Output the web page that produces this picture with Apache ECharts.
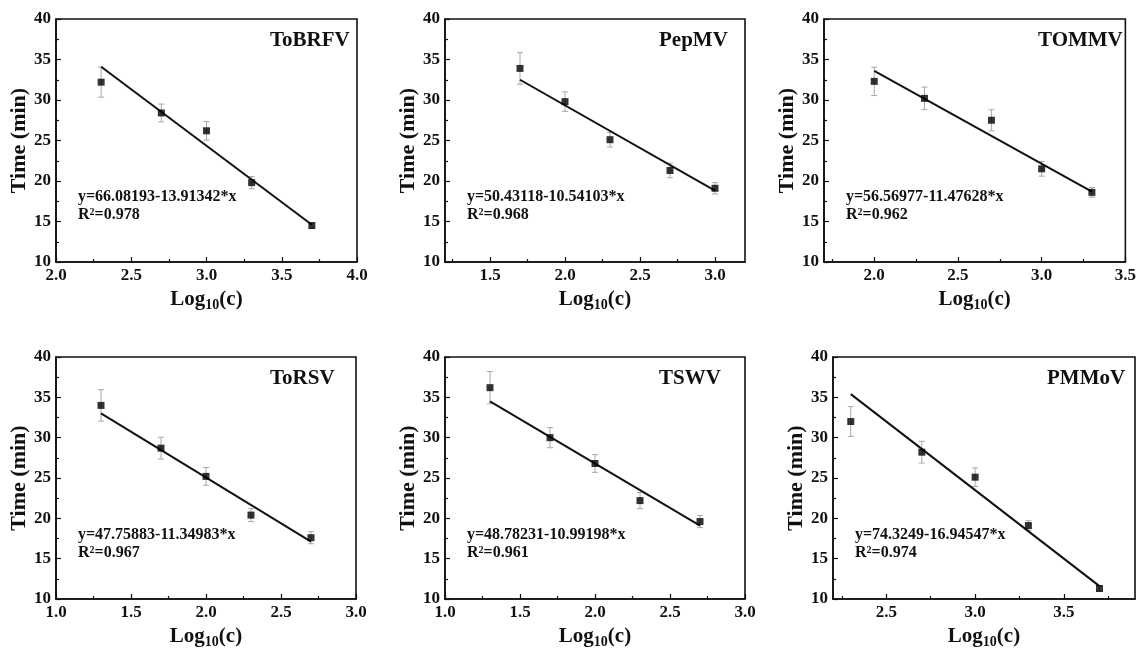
<!DOCTYPE html>
<html>
<head>
<meta charset="utf-8">
<script src="https://cdn.jsdelivr.net/npm/echarts@6/dist/echarts.min.js"></script>
<style>
  html, body { margin: 0; padding: 0; background: #fff; }
  #main { width: 1139px; height: 654px; }
</style>
</head>
<body>
<div id="main"></div>
<script>
// six virus panels
var panelNames = ['ToBRFV', 'PepMV', 'TOMMV', 'ToRSV', 'TSWV', 'PMMoV'];
var xValues = [
  [2.3, 2.7, 3.0, 3.3, 3.7],
  [1.7, 2.0, 2.3, 2.7, 3.0],
  [2.0, 2.3, 2.7, 3.0, 3.3],
  [1.3, 1.7, 2.0, 2.3, 2.7],
  [1.3, 1.7, 2.0, 2.3, 2.7],
  [2.3, 2.7, 3.0, 3.3, 3.7]
];
var timeValues = [
  [32.2, 28.4, 26.2, 19.8, 14.5],
  [33.9, 29.8, 25.1, 21.3, 19.1],
  [32.3, 30.2, 27.5, 21.5, 18.6],
  [34.0, 28.7, 25.2, 20.4, 17.6],
  [36.2, 30.0, 26.8, 22.2, 19.6],
  [32.0, 28.2, 25.1, 19.1, 11.3]
];
var errValues = [
  [1.85, 1.1, 1.15, 0.75, 0.3],
  [1.95, 1.2, 0.9, 0.9, 0.7],
  [1.75, 1.4, 1.3, 0.9, 0.6],
  [1.95, 1.35, 1.1, 0.8, 0.75],
  [2.0, 1.25, 1.1, 1.0, 0.75],
  [1.85, 1.35, 1.15, 0.6, 0.3]
];
// fitted line: y at first and last x
var fitEnds = [
  [34.1, 14.6],
  [32.5, 18.8],
  [33.6, 18.7],
  [33.0, 17.1],
  [34.5, 19.1],
  [35.4, 11.6]
];
var equations = [
  'y=66.08193-13.91342*x',
  'y=50.43118-10.54103*x',
  'y=56.56977-11.47628*x',
  'y=47.75883-11.34983*x',
  'y=48.78231-10.99198*x',
  'y=74.3249-16.94547*x'
];
var r2Values = ['0.978', '0.968', '0.962', '0.967', '0.961', '0.974'];
var xMin = [2.0, 1.2, 1.7, 1.0, 1.0, 2.2];
var xMax = [4.0, 3.2, 3.5, 3.0, 3.0, 3.9];
var xMajor = [
  [2.0, 2.5, 3.0, 3.5, 4.0],
  [1.5, 2.0, 2.5, 3.0],
  [2.0, 2.5, 3.0, 3.5],
  [1.0, 1.5, 2.0, 2.5, 3.0],
  [1.0, 1.5, 2.0, 2.5, 3.0],
  [2.5, 3.0, 3.5]
];
var xMinor = [
  [2.25, 2.75, 3.25, 3.75],
  [1.25, 1.75, 2.25, 2.75],
  [1.75, 2.25, 2.75, 3.25],
  [1.25, 1.75, 2.25, 2.75],
  [1.25, 1.75, 2.25, 2.75],
  [2.25, 2.75, 3.25, 3.75]
];
var yMin = 10, yMax = 40, yStep = 5;

// grid boxes (px)
var boxes = [
  {left: 56, top: 19, width: 301, height: 243},
  {left: 445, top: 19, width: 300, height: 243},
  {left: 824, top: 19, width: 302, height: 243},
  {left: 56, top: 357, width: 300, height: 242},
  {left: 445, top: 357, width: 300, height: 242},
  {left: 833, top: 357, width: 302, height: 242}
];

var FONT = '"Liberation Serif", "Times New Roman", serif';
var grids = [], xAxes = [], minorAxes = [], yAxes = [], series = [], graphics = [];

function errorBar(params, api) {
  var x = api.value(0), y = api.value(1), e = api.value(2);
  var hi = api.coord([x, y + e]);
  var lo = api.coord([x, y - e]);
  var st = {stroke: '#a8a8a8', lineWidth: 1};
  return {
    type: 'group',
    children: [
      {type: 'line', shape: {x1: hi[0], y1: hi[1], x2: lo[0], y2: lo[1]}, style: st},
      {type: 'line', shape: {x1: hi[0] - 3, y1: hi[1], x2: hi[0] + 3, y2: hi[1]}, style: st},
      {type: 'line', shape: {x1: lo[0] - 3, y1: lo[1], x2: lo[0] + 3, y2: lo[1]}, style: st}
    ]
  };
}

for (var i = 0; i < 6; i++) {
  var b = boxes[i];
  grids.push({
    left: b.left, top: b.top, width: b.width, height: b.height,
    show: true, borderColor: '#111', borderWidth: 1.6, backgroundColor: '#fff'
  });
  xAxes.push({
    type: 'value', gridIndex: i, min: xMin[i], max: xMax[i], position: 'bottom',
    name: 'Log{sub|10}(c)', nameLocation: 'middle', nameGap: 25,
    nameTextStyle: {
      color: '#111', fontFamily: FONT, fontWeight: 'bold', fontSize: 21,
      rich: {sub: {fontFamily: FONT, fontWeight: 'bold', fontSize: 14, verticalAlign: 'bottom', padding: [11, 0, 0, 0]}}
    },
    splitLine: {show: false},
    axisLine: {onZero: false, lineStyle: {color: '#111', width: 1.6}},
    axisTick: {inside: true, length: 5, customValues: xMajor[i], lineStyle: {color: '#111', width: 1.2}},
    axisLabel: {
      customValues: xMajor[i], margin: 5, color: '#111', fontFamily: FONT, fontWeight: 'bold', fontSize: 17,
      formatter: function (v) { return v.toFixed(1); }
    }
  });
  minorAxes.push({
    type: 'value', gridIndex: i, min: xMin[i], max: xMax[i], position: 'bottom',
    splitLine: {show: false},
    axisLine: {show: false, onZero: false},
    axisLabel: {show: false, customValues: xMinor[i]},
    axisTick: {inside: true, length: 3, customValues: xMinor[i], lineStyle: {color: '#111', width: 1.2}}
  });
  yAxes.push({
    type: 'value', gridIndex: i, min: yMin, max: yMax, interval: yStep,
    name: 'Time (min)', nameLocation: 'middle', nameGap: 24, nameRotate: 90,
    nameTextStyle: {color: '#111', fontFamily: FONT, fontWeight: 'bold', fontSize: 22},
    splitLine: {show: false},
    axisLine: {onZero: false, lineStyle: {color: '#111', width: 1.6}},
    axisTick: {inside: true, length: 5, lineStyle: {color: '#111', width: 1.2}},
    minorTick: {show: true, splitNumber: 2, length: 3, lineStyle: {color: '#111', width: 1.2}},
    axisLabel: {margin: 5, color: '#111', fontFamily: FONT, fontWeight: 'bold', fontSize: 17}
  });

  var pts = [], bars = [];
  for (var k = 0; k < xValues[i].length; k++) {
    pts.push([xValues[i][k], timeValues[i][k]]);
    bars.push([xValues[i][k], timeValues[i][k], errValues[i][k]]);
  }
  var last = xValues[i].length - 1;
  series.push({
    type: 'custom', name: panelNames[i] + ' sd', xAxisIndex: i, yAxisIndex: i,
    renderItem: errorBar, data: bars, encode: {x: 0, y: 1}, z: 1
  });
  series.push({
    type: 'line', name: panelNames[i] + ' fit', xAxisIndex: i, yAxisIndex: i,
    data: [[xValues[i][0], fitEnds[i][0]], [xValues[i][last], fitEnds[i][1]]],
    showSymbol: false, symbol: 'none', lineStyle: {color: '#111', width: 2}, z: 2
  });
  series.push({
    type: 'scatter', name: panelNames[i], xAxisIndex: i, yAxisIndex: i,
    data: pts, symbol: 'rect', symbolSize: 7, itemStyle: {color: '#000'}, z: 3
  });

  graphics.push({
    type: 'text', left: b.left + 214, top: b.top + 11, z: 10,
    style: {text: panelNames[i], fill: '#111', fontFamily: FONT, fontWeight: 'bold', fontSize: 21}
  });
  graphics.push({
    type: 'text', left: b.left + 22, top: b.top + 170, z: 10,
    style: {text: equations[i], fill: '#111', fontFamily: FONT, fontWeight: 'bold', fontSize: 16}
  });
  graphics.push({
    type: 'text', left: b.left + 22, top: b.top + 188, z: 10,
    style: {
      text: 'R{sup|2}=' + r2Values[i], fill: '#111', fontFamily: FONT, fontWeight: 'bold', fontSize: 16,
      rich: {sup: {fill: '#111', fontFamily: FONT, fontWeight: 'bold', fontSize: 10, verticalAlign: 'top'}}
    }
  });
}

var myChart = echarts.init(document.getElementById('main'), null, {renderer: 'canvas'});
myChart.setOption({
  animation: false,
  backgroundColor: '#fff',
  grid: grids,
  xAxis: xAxes.concat(minorAxes),
  yAxis: yAxes,
  series: series,
  graphic: graphics
});
</script>
</body>
</html>
